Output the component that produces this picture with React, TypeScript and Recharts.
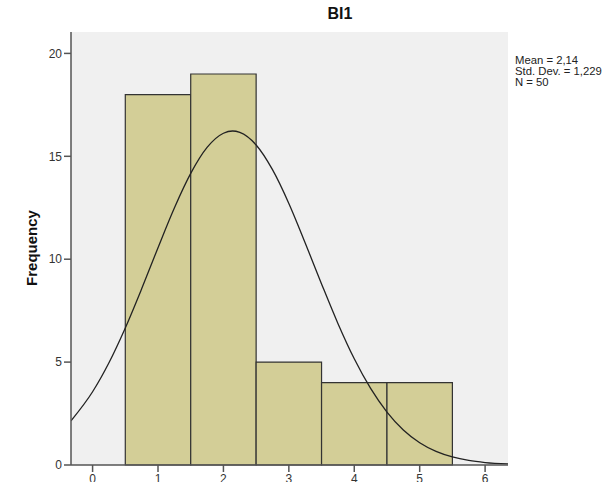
import React from 'react';
import { ComposedChart, Line, XAxis, YAxis, CartesianGrid, ReferenceArea } from 'recharts';

// histogram bins (bin width 1) and counts
const binStarts = [0.5, 1.5, 2.5, 3.5, 4.5];
const binEnds = [1.5, 2.5, 3.5, 4.5, 5.5];
const binCounts = [18, 19, 5, 4, 4];

// normal curve
const curveX = [-0.33, 0, 0.25, 0.5, 0.75, 1, 1.25, 1.5, 1.75, 2, 2.14, 2.25, 2.5, 2.75, 3, 3.25, 3.5, 3.75, 4, 4.25, 4.5, 4.75, 5, 5.25, 5.5, 5.75, 6, 6.35];
const curveY = [2.15, 3.56, 4.97, 6.66, 8.56, 10.56, 12.49, 14.17, 15.43, 16.12, 16.23, 16.16, 15.55, 14.35, 12.71, 10.79, 8.8, 6.88, 5.16, 3.72, 2.57, 1.7, 1.08, 0.66, 0.39, 0.22, 0.12, 0.05];

const xTicks = [0, 1, 2, 3, 4, 5, 6];
const yTicks = [0, 5, 10, 15, 20];
const statLines = ['Mean = 2,14', 'Std. Dev. = 1,229', 'N = 50'];

const font = '"Liberation Sans", Arial, sans-serif';
const border = '#555';

export default function App() {
  const curve = curveX.map((x, i) => ({ x, y: curveY[i] }));

  return (
    <div style={{ position: 'absolute', left: 0, top: 0, width: 607, height: 482, background: '#fff', fontFamily: font }}>
      <ComposedChart
        width={607}
        height={482}
        data={curve}
        margin={{ top: 32, right: 99, bottom: 0, left: 41 }}
      >
        <CartesianGrid horizontal={false} vertical={false} fill="#F0F0F0" />
        <XAxis
          dataKey="x"
          type="number"
          domain={[-0.33, 6.35]}
          ticks={xTicks}
          allowDataOverflow
          height={17}
          tickSize={7}
          tickMargin={2}
          stroke={border}
          strokeWidth={1.5}
          tick={{ fill: '#333', fontSize: 12, fontFamily: font }}
        />
        <XAxis xAxisId="top" orientation="top" type="number" domain={[-0.33, 6.35]} height={0} tick={false} tickLine={false} stroke={border} strokeWidth={1.5} />
        <YAxis
          type="number"
          domain={[0, 21.04]}
          ticks={yTicks}
          allowDataOverflow
          width={30}
          tickSize={7}
          tickMargin={2}
          stroke={border}
          strokeWidth={1.5}
          tick={{ fill: '#333', fontSize: 12, fontFamily: font }}
        />
        <YAxis yAxisId="right" orientation="right" type="number" domain={[0, 21.04]} width={0} tick={false} tickLine={false} stroke={border} strokeWidth={1.5} />
        {binCounts.map((c, i) => (
          <ReferenceArea
            key={i}
            x1={binStarts[i]}
            x2={binEnds[i]}
            y1={0}
            y2={c}
            fill="#D3CE97"
            fillOpacity={1}
            stroke="#333"
            strokeWidth={1.2}
          />
        ))}
        <Line
          dataKey="y"
          type="monotone"
          dot={false}
          stroke="#222"
          strokeWidth={1.3}
          isAnimationActive={false}
        />
      </ComposedChart>

      <div style={{ position: 'absolute', left: 240, top: 5, width: 200, textAlign: 'center', fontSize: 16, fontWeight: 'bold', color: '#111', lineHeight: '18px' }}>
        BI1
      </div>
      <div
        style={{
          position: 'absolute',
          left: 32 - 60,
          top: 248 - 9,
          width: 120,
          height: 18,
          lineHeight: '18px',
          textAlign: 'center',
          fontSize: 15,
          fontWeight: 'bold',
          color: '#111',
          transform: 'rotate(-90deg)',
        }}
      >
        Frequency
      </div>
      <div style={{ position: 'absolute', left: 515, top: 55, fontSize: 11.3, lineHeight: '11px', color: '#222', whiteSpace: 'nowrap' }}>
        {statLines.map((s) => (
          <div key={s}>{s}</div>
        ))}
      </div>
    </div>
  );
}
